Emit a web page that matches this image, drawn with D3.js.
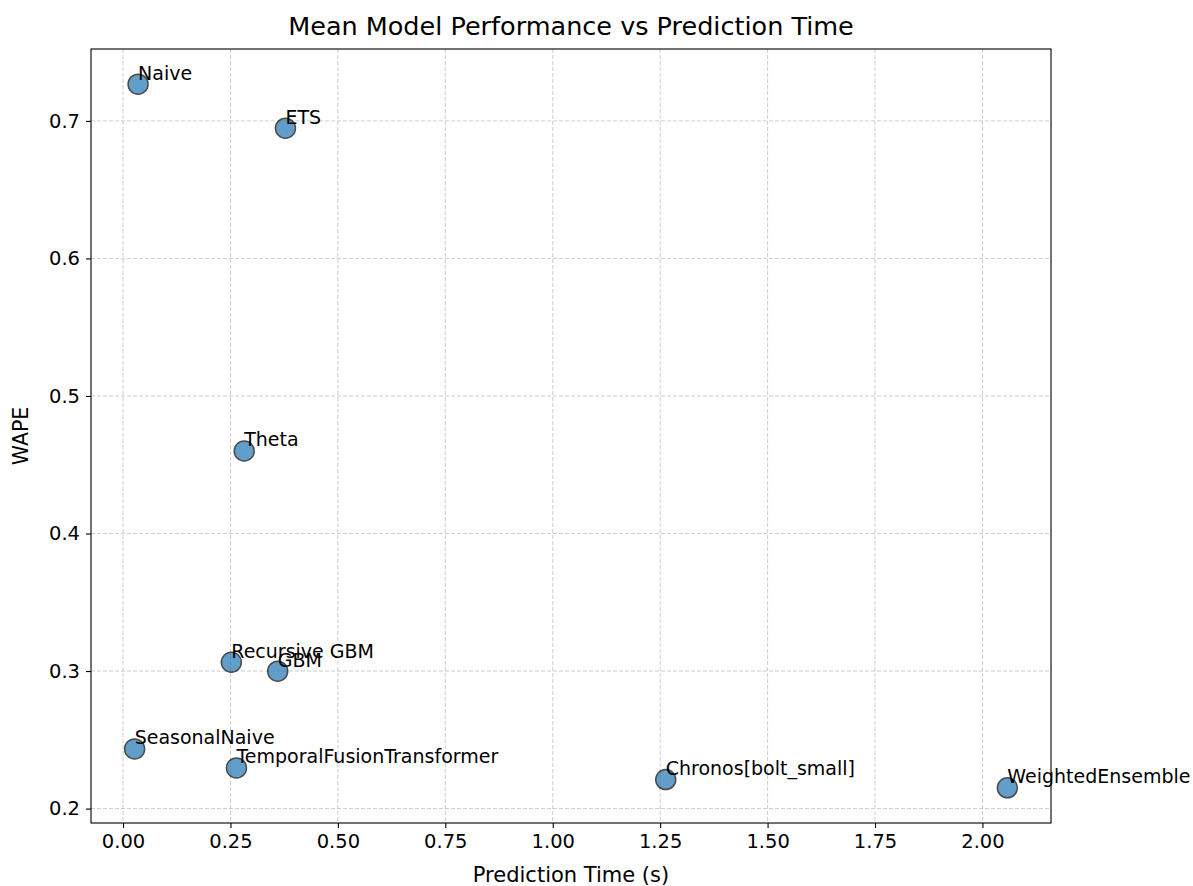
<!DOCTYPE html>
<html>
<head>
<meta charset="utf-8">
<script src="https://cdn.jsdelivr.net/npm/d3@7"></script>
<style>
  body { margin: 0; background: #fff; }
  text { font-family: "DejaVu Sans", sans-serif; fill: #000; }
</style>
</head>
<body>
<div id="chart"></div>
<script>
'use strict';

// ---------- data ---------- //
var models = ['Naive', 'ETS', 'Theta', 'Recursive GBM', 'GBM', 'SeasonalNaive',
  'TemporalFusionTransformer', 'Chronos[bolt_small]', 'WeightedEnsemble'];
var predTime = [0.035, 0.378, 0.282, 0.252, 0.360, 0.027, 0.264, 1.263, 2.058];
var wape = [0.7267, 0.6947, 0.4600, 0.3064, 0.2999, 0.2434, 0.2296, 0.2211, 0.2151];
var xTicks = [0, 0.25, 0.5, 0.75, 1.0, 1.25, 1.5, 1.75, 2.0];
var yTicks = [0.2, 0.3, 0.4, 0.5, 0.6, 0.7];

// ---------- layout ---------- //
var width = 1193, height = 886;
var m = { left: 91, right: 1051, top: 49, bottom: 823 };

var svg = d3.select('#chart').append('svg')
  .attr('width', width)
  .attr('height', height);

svg.append('rect').attr('width', width).attr('height', height).attr('fill', '#fff');

// matplotlib style 5% margins
function pad(ext) {
  var p = (ext[1] - ext[0]) * 0.05;
  return [ext[0] - p, ext[1] + p];
}
var x = d3.scaleLinear().domain(pad(d3.extent(predTime))).range([m.left, m.right]);
var y = d3.scaleLinear().domain(pad(d3.extent(wape))).range([m.bottom, m.top]);

// grid
var grid = svg.append('g')
  .attr('stroke', '#b0b0b0')
  .attr('stroke-opacity', 0.8)
  .attr('stroke-width', 0.8)
  .attr('stroke-dasharray', '4,2');
grid.selectAll('line.gx').data(xTicks).enter().append('line')
  .attr('x1', function (d) { return x(d); })
  .attr('x2', function (d) { return x(d); })
  .attr('y1', m.top).attr('y2', m.bottom);
grid.selectAll('line.gy').data(yTicks).enter().append('line')
  .attr('y1', function (d) { return y(d); })
  .attr('y2', function (d) { return y(d); })
  .attr('x1', m.left).attr('x2', m.right);

// axes
var xAxis = svg.append('g')
  .attr('transform', 'translate(0,' + m.bottom + ')')
  .call(d3.axisBottom(x).tickValues(xTicks).tickFormat(d3.format('.2f')).tickSize(5).tickPadding(6));
var yAxis = svg.append('g')
  .attr('transform', 'translate(' + m.left + ',0)')
  .call(d3.axisLeft(y).tickValues(yTicks).tickFormat(d3.format('.1f')).tickSize(5).tickPadding(6));

[xAxis, yAxis].forEach(function (a) {
  a.select('.domain').remove();
  a.selectAll('.tick line').attr('stroke', '#000').attr('stroke-width', 1.1);
  a.selectAll('.tick text')
    .attr('font-family', '"DejaVu Sans", sans-serif')
    .attr('font-size', 19.5)
    .attr('fill', '#000');
});

// frame
svg.append('rect')
  .attr('x', m.left).attr('y', m.top)
  .attr('width', m.right - m.left).attr('height', m.bottom - m.top)
  .attr('fill', 'none').attr('stroke', '#000').attr('stroke-width', 1.1);

// points
svg.append('g').selectAll('circle').data(models).enter().append('circle')
  .attr('cx', function (d, i) { return x(predTime[i]); })
  .attr('cy', function (d, i) { return y(wape[i]); })
  .attr('r', 10)
  .attr('fill', '#1f77b4')
  .attr('stroke', '#000')
  .attr('stroke-width', 1.5)
  .attr('opacity', 0.7);

// labels
svg.append('g').selectAll('text').data(models).enter().append('text')
  .attr('x', function (d, i) { return x(predTime[i]); })
  .attr('y', function (d, i) { return y(wape[i]) - 4.5; })
  .attr('font-size', 19)
  .text(function (d) { return d; });

// titles
svg.append('text')
  .attr('x', (m.left + m.right) / 2).attr('y', 35)
  .attr('text-anchor', 'middle')
  .attr('font-size', 25.5)
  .text('Mean Model Performance vs Prediction Time');

svg.append('text')
  .attr('x', (m.left + m.right) / 2).attr('y', 882)
  .attr('text-anchor', 'middle')
  .attr('font-size', 21)
  .text('Prediction Time (s)');

svg.append('text')
  .attr('transform', 'translate(28,' + (m.top + m.bottom) / 2 + ') rotate(-90)')
  .attr('text-anchor', 'middle')
  .attr('font-size', 20.5)
  .text('WAPE');
</script>
</body>
</html>
